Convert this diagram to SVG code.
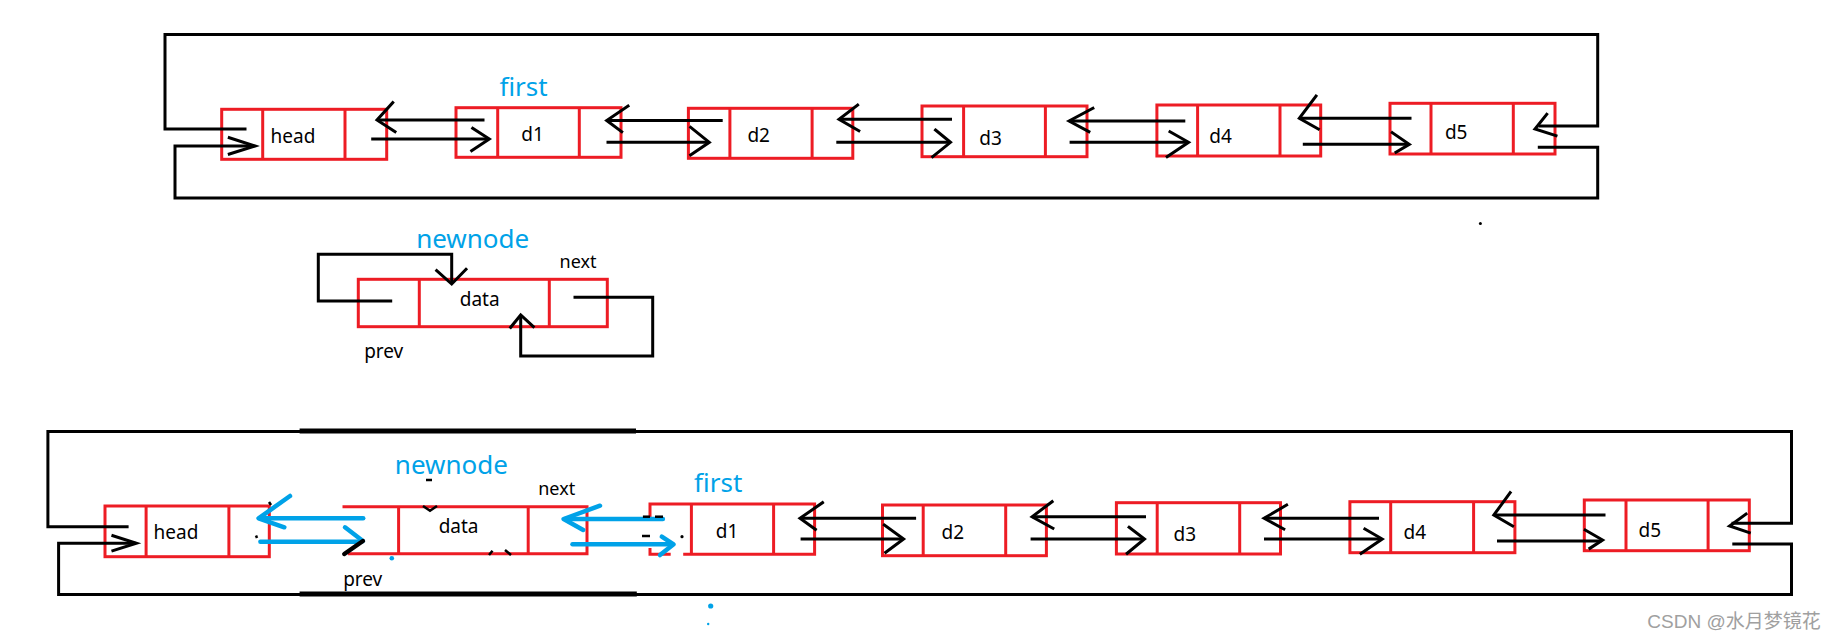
<svg xmlns="http://www.w3.org/2000/svg" width="1835" height="641" viewBox="0 0 1835 641">
<style>
.box{fill:none;stroke:#ED1C24;stroke-width:3}
.w{fill:none;stroke:#000;stroke-width:3;stroke-linecap:square;stroke-linejoin:miter}
.wt{fill:none;stroke:#000;stroke-width:5}
.b{fill:none;stroke:#00A2E8;stroke-width:4.5;stroke-linecap:round;stroke-linejoin:round}
.t{font-family:"Noto Sans","Liberation Sans",sans-serif;font-size:19px;fill:#000;text-anchor:middle}
.lb{font-family:"Noto Sans","Liberation Sans",sans-serif;font-size:26px;fill:#00A2E8;text-anchor:middle}
.wm{font-family:"Liberation Sans","Noto Sans CJK SC",sans-serif;font-size:19px;fill:#A0A0A0;text-anchor:middle}
</style>
<rect width="1835" height="641" fill="#fff"/>

<!-- ===== Top row nodes ===== -->
<g id="top-head">
<rect class="box" x="221.7" y="109.3" width="165" height="50"/>
<line class="box" x1="262.7" y1="109.3" x2="262.7" y2="159.3"/>
<line class="box" x1="345" y1="109.3" x2="345" y2="159.3"/>
<text class="t" x="293" y="142.7">head</text>
</g>
<g id="top-d1">
<rect class="box" x="456" y="107.7" width="165" height="49.6"/>
<line class="box" x1="497.7" y1="107.7" x2="497.7" y2="157.3"/>
<line class="box" x1="579.3" y1="107.7" x2="579.3" y2="157.3"/>
<text class="t" x="532.5" y="140.7">d1</text>
<text class="lb" x="523.5" y="95.5">first</text>
</g>
<g id="top-d2">
<rect class="box" x="688.4" y="108.3" width="164.4" height="50"/>
<line class="box" x1="729.9" y1="108.3" x2="729.9" y2="158.3"/>
<line class="box" x1="812.1" y1="108.3" x2="812.1" y2="158.3"/>
<text class="t" x="758.7" y="141.7">d2</text>
</g>
<g id="top-d3">
<rect class="box" x="922" y="106" width="165" height="50.7"/>
<line class="box" x1="963.6" y1="106" x2="963.6" y2="156.7"/>
<line class="box" x1="1045.4" y1="106" x2="1045.4" y2="156.7"/>
<text class="t" x="990.6" y="145">d3</text>
</g>
<g id="top-d4">
<rect class="box" x="1156.9" y="105" width="163.8" height="51"/>
<line class="box" x1="1197.6" y1="105" x2="1197.6" y2="156"/>
<line class="box" x1="1280" y1="105" x2="1280" y2="156"/>
<text class="t" x="1220.5" y="142.7">d4</text>
</g>
<g id="top-d5">
<rect class="box" x="1390" y="103.3" width="165" height="50.7"/>
<line class="box" x1="1431" y1="103.3" x2="1431" y2="154"/>
<line class="box" x1="1513.3" y1="103.3" x2="1513.3" y2="154"/>
<text class="t" x="1456.2" y="139.3">d5</text>
</g>

<!-- ===== Middle newnode ===== -->
<g id="mid-newnode">
<rect class="box" x="358.3" y="279.3" width="249" height="47.4"/>
<line class="box" x1="419.3" y1="279.3" x2="419.3" y2="326.7"/>
<line class="box" x1="549.3" y1="279.3" x2="549.3" y2="326.7"/>
<text class="lb" x="472.7" y="247.7">newnode</text>
<text class="t" x="479.7" y="306">data</text>
<text class="t" x="578" y="268.3" style="font-size:18px">next</text>
<text class="t" x="383.7" y="357.7">prev</text>
</g>

<!-- ===== Bottom row nodes ===== -->
<g id="bot-head">
<rect class="box" x="105" y="506" width="164.3" height="50.7"/>
<line class="box" x1="146.1" y1="506" x2="146.1" y2="556.7"/>
<line class="box" x1="228.9" y1="506" x2="228.9" y2="556.7"/>
<text class="t" x="176" y="539.3">head</text>
</g>
<g id="bot-newnode">
<polyline class="box" points="342.5,506.7 587,506.7 587,553.8 347.9,553.8"/>
<line class="box" x1="398.6" y1="506.7" x2="398.6" y2="553.8"/>
<line class="box" x1="528.2" y1="506.7" x2="528.2" y2="553.8"/>
<text class="lb" x="451.4" y="474">newnode</text>
<text class="t" x="458.6" y="533.3">data</text>
<text class="t" x="556.7" y="495" style="font-size:18px">next</text>
<text class="t" x="362.7" y="585.5">prev</text>
</g>
<g id="bot-d1">
<polyline class="box" points="650,517 650,504 814.6,504 814.6,554.3 683.2,554.3"/>
<polyline class="box" points="650,548 650,554.3 670.7,554.3"/>
<line class="box" x1="691.4" y1="504" x2="691.4" y2="554.3"/>
<line class="box" x1="773.6" y1="504" x2="773.6" y2="554.3"/>
<text class="t" x="727.1" y="538.3">d1</text>
<text class="lb" x="718.2" y="491.7">first</text>
</g>
<g id="bot-d2">
<rect class="box" x="882.5" y="505" width="163.9" height="50.7"/>
<line class="box" x1="923.2" y1="505" x2="923.2" y2="555.7"/>
<line class="box" x1="1005.7" y1="505" x2="1005.7" y2="555.7"/>
<text class="t" x="952.9" y="539">d2</text>
</g>
<g id="bot-d3">
<rect class="box" x="1116.4" y="502.7" width="164.1" height="51.3"/>
<line class="box" x1="1157.2" y1="502.7" x2="1157.2" y2="554"/>
<line class="box" x1="1239.7" y1="502.7" x2="1239.7" y2="554"/>
<text class="t" x="1184.9" y="540.7">d3</text>
</g>
<g id="bot-d4">
<rect class="box" x="1349.9" y="501.7" width="165" height="51"/>
<line class="box" x1="1390.7" y1="501.7" x2="1390.7" y2="552.7"/>
<line class="box" x1="1473.6" y1="501.7" x2="1473.6" y2="552.7"/>
<text class="t" x="1414.8" y="539.3">d4</text>
</g>
<g id="bot-d5">
<rect class="box" x="1584.3" y="500" width="165" height="50.7"/>
<line class="box" x1="1626" y1="500" x2="1626" y2="550.7"/>
<line class="box" x1="1708.1" y1="500" x2="1708.1" y2="550.7"/>
<text class="t" x="1649.9" y="536.7">d5</text>
</g>

<!-- ===== Connectors ===== -->
<g id="connectors">
<!-- top row wrap-around -->
<polyline class="w" points="245,129 165,129 165,34.5 1597.7,34.5 1597.7,126 1540,126"/>
<polyline class="w" points="1546.7,114.3 1535,129 1556,135.7"/>
<polyline class="w" points="1539.3,147.3 1597.7,147.3 1597.7,198 175,198 175,146 253,146"/>
<polyline class="w" points="229.3,137.7 255,146 229.3,154"/>
<!-- top row links -->
<line class="w" x1="483" y1="120" x2="379" y2="120"/>
<polyline class="w" points="392.7,102.7 377,120 395,131.7"/>
<line class="w" x1="372.7" y1="139" x2="487" y2="139"/>
<polyline class="w" points="472.7,128.3 489.3,139 471.7,150.7"/>
<line class="w" x1="721.2" y1="120.5" x2="609" y2="120.5"/>
<polyline class="w" points="628,106 606.7,120.5 621.7,131.7"/>
<line class="w" x1="608" y1="142.3" x2="707" y2="142.3"/>
<polyline class="w" points="690.7,127.3 709.3,142.3 690.7,155"/>
<line class="w" x1="950.5" y1="119.3" x2="841" y2="119.3"/>
<polyline class="w" points="857.6,105 839,119.3 858.8,130.7"/>
<line class="w" x1="837.8" y1="142.3" x2="948" y2="142.3"/>
<polyline class="w" points="935.5,130 950.5,142.3 932.7,156.7"/>
<line class="w" x1="1183.8" y1="121" x2="1071" y2="121"/>
<polyline class="w" points="1092.9,108.3 1069.1,121 1088.9,131.7"/>
<line class="w" x1="1071.1" y1="142.3" x2="1186" y2="142.3"/>
<polyline class="w" points="1170,131.7 1188.6,142.3 1167.2,156.7"/>
<line class="w" x1="1410" y1="118.3" x2="1301" y2="118.3"/>
<polyline class="w" points="1316,96 1299.3,118.3 1318.3,129"/>
<line class="w" x1="1304.3" y1="144.3" x2="1407" y2="144.3"/>
<polyline class="w" points="1392.3,132.7 1409.3,144.3 1396,152.3"/>

<!-- middle newnode self loops -->
<polyline class="w" points="390.7,301 318.3,301 318.3,254.3 451.7,254.3 451.7,282"/>
<polyline class="w" points="436.7,270.7 451.7,284 466,269.3"/>
<polyline class="w" points="575,297.3 652.7,297.3 652.7,356 520.7,356 520.7,317"/>
<polyline class="w" points="510.7,327.3 520.7,315 533.3,326.7"/>

<!-- bottom row wrap-around -->
<polyline class="w" points="127.1,526.7 47.9,526.7 47.9,431.5 1791.5,431.5 1791.5,523.3 1733,523.3"/>
<line class="wt" x1="299.6" y1="431" x2="636" y2="431"/>
<polyline class="w" points="1746,514 1729.6,526 1749.3,532.7"/>
<polyline class="w" points="1733.8,544 1791.5,544 1791.5,594.5 58.6,594.5 58.6,543.3 134,543.3"/>
<line class="wt" x1="299.6" y1="594" x2="636.8" y2="594"/>
<polyline class="w" points="112.9,535.7 136.4,543.3 112.9,550.7"/>

<!-- bottom row: new blue links -->
<line class="b" x1="363.2" y1="518.3" x2="260" y2="518.3"/>
<polyline class="b" points="290,496 258.6,518.3 284.3,527.3"/>
<line class="b" x1="260.4" y1="541.7" x2="361" y2="541.7"/>
<polyline class="b" points="345,527.3 362.9,541"/>
<line x1="344.3" y1="554" x2="362.9" y2="541" stroke="#000" stroke-width="4.5" stroke-linecap="round"/>
<line class="b" x1="662.9" y1="519" x2="565" y2="519"/>
<polyline class="b" points="600,505.7 563.6,519 583.2,530"/>
<line class="b" x1="572.5" y1="544.3" x2="672" y2="544.3"/>
<polyline class="b" points="661.8,536.7 673.6,544.3 660,555"/>

<!-- bottom row black links -->
<line class="w" x1="914.6" y1="518.3" x2="802" y2="518.3"/>
<polyline class="w" points="822.5,502.7 800,518.3 815.4,529.3"/>
<line class="w" x1="802.1" y1="539" x2="901" y2="539"/>
<polyline class="w" points="884.3,525 903.6,539 885.7,552.3"/>
<line class="w" x1="1144.5" y1="516.7" x2="1034" y2="516.7"/>
<polyline class="w" points="1052.1,501.7 1032.1,516.7 1052.9,528.3"/>
<line class="w" x1="1032.1" y1="539" x2="1142" y2="539"/>
<polyline class="w" points="1129.1,527.3 1144.5,539 1127.2,553.3"/>
<line class="w" x1="1377.5" y1="518.3" x2="1266" y2="518.3"/>
<polyline class="w" points="1286.6,505 1264.1,518.3 1283.8,529"/>
<line class="w" x1="1265.5" y1="539" x2="1380" y2="539"/>
<polyline class="w" points="1364.9,529 1382.2,539 1361.1,553.3"/>
<line class="w" x1="1604" y1="515" x2="1496" y2="515"/>
<polyline class="w" points="1510.2,492.7 1493.8,515 1512.6,526"/>
<line class="w" x1="1498.5" y1="541" x2="1600" y2="541"/>
<polyline class="w" points="1585.2,530 1602.6,540 1589.9,548.3"/>
</g>

<!-- leftover marks -->
<g id="marks" stroke="#000" stroke-width="2.5" fill="none">
<line x1="426" y1="480" x2="432" y2="480"/>
<polyline points="423,506 430,510.7 437,506"/>
<line x1="489" y1="555" x2="492.5" y2="550.7"/>
<line x1="505" y1="550" x2="511" y2="555"/>
<line x1="642.9" y1="516.7" x2="650" y2="516.7"/>
<line x1="655" y1="516.7" x2="663" y2="516.7"/>
<line x1="642" y1="536" x2="650" y2="536"/>
<line x1="269" y1="502" x2="271" y2="505"/>
<line x1="256" y1="535.5" x2="257" y2="538"/>
</g>
<circle cx="682" cy="536.7" r="1.6" fill="#000"/>
<circle cx="1480.4" cy="223.5" r="1.5" fill="#000"/>
<circle cx="391.8" cy="558.3" r="2.3" fill="#00A2E8"/>
<circle cx="710.7" cy="606" r="2.6" fill="#00A2E8"/>
<circle cx="708.2" cy="624" r="1.2" fill="#00A2E8"/>

<text class="wm" x="1734" y="628">CSDN @水月梦镜花</text>
</svg>
